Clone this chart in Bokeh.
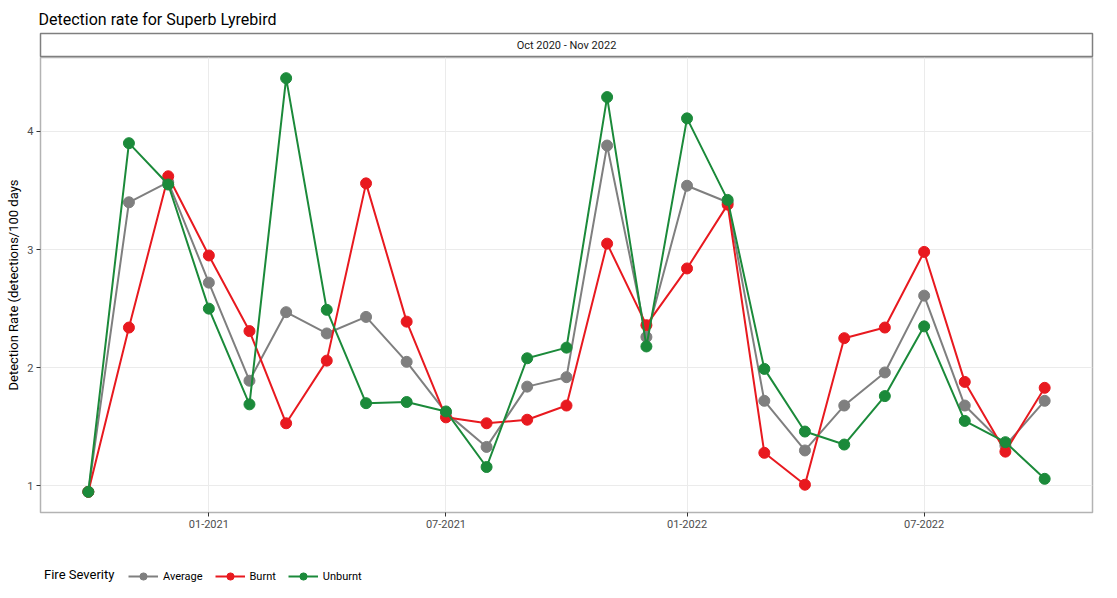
import datetime as dt
from bokeh.plotting import figure
from bokeh.models import (ColumnDataSource, Range1d, DatetimeTickFormatter,
                          MonthsTicker, Legend, LegendItem, FixedTicker)
from bokeh.layouts import column
from bokeh.embed import file_html
from bokeh.resources import INLINE
from bokeh.core.properties import value

# ---------------- data ----------------
months = ["2020-10", "2020-11", "2020-12", "2021-01", "2021-02", "2021-03",
          "2021-04", "2021-05", "2021-06", "2021-07", "2021-08", "2021-09",
          "2021-10", "2021-11", "2021-12", "2022-01", "2022-02", "2022-03",
          "2022-04", "2022-05", "2022-06", "2022-07", "2022-08", "2022-09",
          "2022-10"]
average = [0.95, 3.40, 3.57, 2.72, 1.89, 2.47, 2.29, 2.43, 2.05, 1.62, 1.33,
           1.84, 1.92, 3.88, 2.26, 3.54, 3.40, 1.72, 1.30, 1.68, 1.96, 2.61,
           1.68, 1.34, 1.72]
burnt = [0.95, 2.34, 3.62, 2.95, 2.31, 1.53, 2.06, 3.56, 2.39, 1.58, 1.53,
         1.56, 1.68, 3.05, 2.36, 2.84, 3.38, 1.28, 1.01, 2.25, 2.34, 2.98,
         1.88, 1.29, 1.83]
unburnt = [0.95, 3.90, 3.55, 2.50, 1.69, 4.45, 2.49, 1.70, 1.71, 1.63, 1.16,
           2.08, 2.17, 4.29, 2.18, 4.11, 3.42, 1.99, 1.46, 1.35, 1.76, 2.35,
           1.55, 1.37, 1.06]
series_names = ["Average", "Burnt", "Unburnt"]
series_colors = ["#7f7f7f", "#e8191f", "#1b8a3a"]
y_ticks = [1, 2, 3, 4]
title_text = "Detection rate for Superb Lyrebird"
strip_text = "Oct 2020 - Nov 2022"
y_label = "Detection Rate (detections/100 days"
legend_title = "Fire Severity"

FONT = "Roboto"
dates = [dt.datetime.strptime(m, "%Y-%m") for m in months]

# ---------------- strip (facet label) ----------------
strip = figure(width=1117, height=57, x_range=Range1d(0, 1), y_range=Range1d(0, 1),
               output_backend="svg", toolbar_location=None,
               min_border_left=40, min_border_right=25, min_border_top=33,
               min_border_bottom=0, title=title_text)
strip.title.text_font = FONT
strip.title.text_font_size = "16px"
strip.title.text_font_style = "normal"
strip.title.text_color = "#000000"
strip.title.offset = -2
strip.axis.visible = False
strip.grid.visible = False
strip.outline_line_color = "#7f7f7f"
strip.outline_line_width = 1.5
strip.text(x=[0.5], y=[0.5], text=[strip_text], text_align="center",
           text_baseline="middle", text_font=value(FONT),
           text_font_size="11px", text_color="#1a1a1a")

# ---------------- main panel ----------------
x0 = dates[0] - dt.timedelta(days=36.5)
x1 = dates[-1] + dt.timedelta(days=36.5)
allv = average + burnt + unburnt
span = max(allv) - min(allv)
p = figure(width=1117, height=490, x_axis_type="datetime",
           x_range=Range1d(x0, x1),
           y_range=Range1d(min(allv) - 0.05 * span, max(allv) + 0.05 * span),
           output_backend="svg", toolbar_location=None,
           min_border_left=40, min_border_right=25, min_border_top=0,
           min_border_bottom=35)
p.outline_line_color = "#b3b3b3"
p.outline_line_width = 1.5
p.background_fill_color = "white"
p.grid.grid_line_color = "#ebebeb"
p.grid.grid_line_width = 1

p.xaxis.ticker = MonthsTicker(months=[0, 6])
p.xaxis.formatter = DatetimeTickFormatter(months="%m-%Y", days="%m-%Y", years="%m-%Y")
p.yaxis.ticker = FixedTicker(ticks=y_ticks)
for ax in (p.xaxis[0], p.yaxis[0]):
    ax.axis_line_color = None
    ax.major_tick_line_color = "#333333"
    ax.major_tick_out = 4
    ax.major_tick_in = 0
    ax.minor_tick_line_color = None
    ax.major_label_text_font = FONT
    ax.major_label_text_font_size = "11px"
    ax.major_label_text_color = "#4d4d4d"
    ax.major_label_standoff = 3
p.yaxis.axis_label = y_label
p.yaxis.axis_label_text_font = FONT
p.yaxis.axis_label_text_font_size = "13px"
p.yaxis.axis_label_text_font_style = "normal"
p.yaxis.axis_label_text_color = "#000000"
p.yaxis.axis_label_standoff = 3

for name, vals, col in zip(series_names, [average, burnt, unburnt], series_colors):
    src = ColumnDataSource(dict(x=dates, y=vals))
    p.line("x", "y", source=src, line_color=col, line_width=2)
    p.scatter("x", "y", source=src, size=11, fill_color=col, line_color=col)

# ---------------- legend row ----------------
lg = figure(width=1117, height=51, x_range=Range1d(0, 1), y_range=Range1d(0, 1),
            output_backend="svg", toolbar_location=None,
            min_border_left=0, min_border_right=0, min_border_top=0,
            min_border_bottom=0)
lg.axis.visible = False
lg.grid.visible = False
lg.outline_line_color = None

nan = float("nan")
placeholder = ColumnDataSource(dict(x=[nan], y=[nan]))
title_r = lg.scatter("x", "y", source=placeholder, size=1, fill_alpha=0, line_alpha=0)
items = []
for name, col in zip(series_names, series_colors):
    ln = lg.line("x", "y", source=placeholder, line_color=col, line_width=2)
    sc = lg.scatter("x", "y", source=placeholder, size=11, fill_color=col, line_color=col)
    items.append(LegendItem(label=name, renderers=[ln, sc]))

legend_t = Legend(items=[LegendItem(label=legend_title, renderers=[title_r])],
                  orientation="horizontal", location=(4, 16),
                  border_line_color=None, background_fill_alpha=0,
                  label_text_font=FONT, label_text_font_size="13px",
                  label_text_color="#000000", glyph_width=0, glyph_height=14,
                  label_standoff=0, padding=0, margin=0)
legend = Legend(items=items, orientation="horizontal", location=(88, 13),
                border_line_color=None, background_fill_alpha=0,
                label_text_font=FONT, label_text_font_size="11px",
                label_text_color="#000000", glyph_width=30, glyph_height=18,
                label_standoff=5, spacing=12, padding=0, margin=0)
lg.add_layout(legend_t)
lg.add_layout(legend)

layout = column(strip, p, lg, spacing=0)
open("out.html", "w").write(file_html(layout, INLINE))
